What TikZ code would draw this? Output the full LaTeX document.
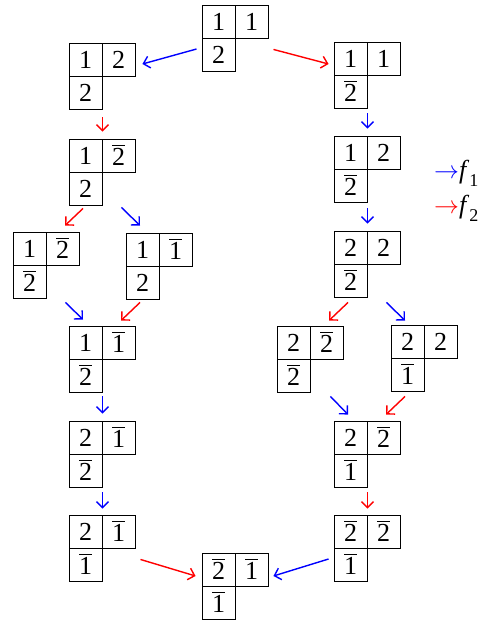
\documentclass[tikz,border=0pt]{standalone}
\usepackage{fontspec}
\setmainfont{Liberation Serif}
\usetikzlibrary{arrows.meta}

% barred letter and box text size
\newcommand{\bb}[1]{\vbox{\hrule height 1pt \kern 2.5pt \hbox{#1}}}
\newcommand{\tabsize}{\fontsize{26}{30}\selectfont}
\newcommand{\lowsub}[1]{\raisebox{-0.3em}{\fontsize{18}{20}\selectfont #1}}

\begin{document}
\begin{tikzpicture}[
    x=1pt, y=-1pt, % pixel-like units, y grows downwards
    >={Straight Barb[length=6pt,width=12pt]}, % open arrow tip
    cell/.style={draw, line width=0.9pt, minimum size=33pt, inner sep=0pt}, % one box of a tableau
    fone/.style={blue, line width=1.4pt, ->}, % f_1 arrows
    ftwo/.style={red, line width=1.4pt, ->}, % f_2 arrows
    legend/.style={anchor=base west, inner sep=0pt}
]

    \useasboundingbox (0,0) rectangle (488,620);

    % Tableaux: name / top-left corner / first row / second row
    \foreach \n/\x/\y/\p/\q/\r in {
        T0/202/5/1/1/2,
        L1/69/43/1/2/2,
        L2/69/139/1/\bb2/2,
        L3a/13/232/1/\bb2/\bb2,
        L3b/126/233/1/\bb1/2,
        L4/69/326/1/\bb1/\bb2,
        L5/69/421/2/\bb1/\bb2,
        L6/69/515/2/\bb1/\bb1,
        R1/334/42/1/1/\bb2,
        R2/334/136/1/2/\bb2,
        R3/334/231/2/2/\bb2,
        R4a/277/326/2/\bb2/\bb2,
        R4b/391/325/2/2/\bb1,
        R5/334/421/2/\bb2/\bb1,
        R6/334/515/\bb2/\bb2/\bb1,
        B/202/553/\bb2/\bb1/\bb1}{
        \node[cell] (\n-a) at (\x+16.5,\y+16.5) {\tabsize\p};
        \node[cell] (\n-b) at (\x+49.5,\y+16.5) {\tabsize\q};
        \node[cell] (\n-c) at (\x+16.5,\y+49.5) {\tabsize\r};
    }

    % Top
    \draw[fone] ([shift={(-5,-5.5)}]T0-c.west) -- ([shift={(7,4.5)}]L1-b.east);
    \draw[ftwo] ([shift={(5,11)}]T0-b.south east) -- ([shift={(-5,5.5)}]R1-a.west);

    % Left branch
    \draw[ftwo, shorten <=8pt, shorten >=7pt] (L1-c.south east) -- (L2-a.north east);
    \draw[ftwo] ([shift={(-2.5,3)}]L2-c.south) -- ([shift={(2.5,-6)}]L3a-b.north);
    \draw[fone] ([shift={(19,2)}]L2-c.south east) -- ([shift={(-2.5,-7)}]L3b-a.north);
    \draw[fone] ([shift={(19,4)}]L3a-c.south east) -- ([shift={(-2.5,-6)}]L4-a.north);
    \draw[ftwo] ([shift={(-2.5,3)}]L3b-c.south) -- ([shift={(2.5,-5)}]L4-b.north);
    \draw[fone, shorten <=4pt, shorten >=7pt] (L4-c.south east) -- (L5-a.north east);
    \draw[fone, shorten <=5pt, shorten >=6pt] (L5-c.south east) -- (L6-a.north east);

    % Right branch
    \draw[fone, shorten <=5pt, shorten >=7pt] (R1-c.south east) -- (R2-a.north east);
    \draw[fone, shorten <=6pt, shorten >=7pt] (R2-c.south east) -- (R3-a.north east);
    \draw[ftwo] ([shift={(-2.5,5)}]R3-c.south) -- ([shift={(2.5,-5)}]R4a-b.north);
    \draw[fone] ([shift={(19,5)}]R3-c.south east) -- ([shift={(-2.5,-4)}]R4b-a.north);
    \draw[fone] ([shift={(20,4)}]R4a-c.south east) -- ([shift={(-2.5,-6)}]R5-a.north);
    \draw[ftwo] ([shift={(-2.5,5)}]R4b-c.south) -- ([shift={(2.5,-6)}]R5-b.north);
    \draw[ftwo, shorten <=5pt, shorten >=6pt] (R5-c.south east) -- (R6-a.north east);

    % Bottom
    \draw[ftwo] ([shift={(5,11)}]L6-b.south east) -- ([shift={(-6,6.5)}]B-a.west);
    \draw[fone] ([shift={(-5,-5.5)}]R6-c.west) -- ([shift={(5,6.5)}]B-b.east);

    % Legend
    \node[legend] (legone) at (434,178.5) {\tabsize\textcolor{blue}{$\rightarrow$}\textit{f}\lowsub{1}};
    \node[legend] (legtwo) at (434,213.5) {\tabsize\textcolor{red}{$\rightarrow$}\textit{f}\lowsub{2}};

\end{tikzpicture}
\end{document}
